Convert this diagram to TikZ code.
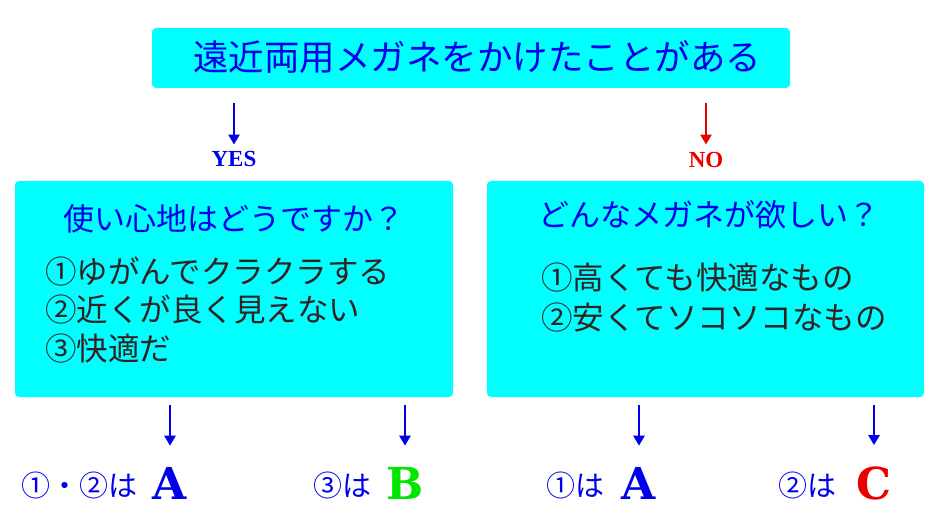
\documentclass[tikz,border=0pt]{standalone}
\usepackage{fontspec}
\usetikzlibrary{arrows.meta}
\newfontfamily\jp{Noto Sans CJK JP}
\newfontfamily\serb{Liberation Serif}[BoldFont={Liberation Serif Bold}]
\newfontfamily\slab{DejaVu Serif}
\definecolor{boxcyan}{RGB}{0,255,255}
\definecolor{tblue}{RGB}{0,0,235}
\definecolor{tdark}{RGB}{50,34,34}
\definecolor{tred}{RGB}{235,0,0}
\definecolor{tgreen}{RGB}{0,230,0}
\begin{document}
\begin{tikzpicture}[x=1pt,y=1pt,
  panel/.style={fill=boxcyan, rounded corners=4pt, inner sep=0pt},
  txt/.style={inner sep=0pt, anchor=base west},
  ttl/.style={txt, text=tblue, font=\jp\fontsize{35.5}{40}\selectfont},
  qst/.style={txt, text=tblue, font=\jp\fontsize{31}{36}\selectfont},
  item/.style={txt, text=tdark, font=\jp\fontsize{31.5}{36}\selectfont},
  lab/.style={txt, text=tblue, font=\jp\fontsize{29}{34}\selectfont},
  yn/.style={inner sep=0pt, anchor=base, font=\serb\bfseries\fontsize{23}{26}\selectfont},
  grade/.style={inner sep=0pt, anchor=base, font=\slab\bfseries\fontsize{44}{48}\selectfont},
  arr/.style={line width=2.6pt, -{Triangle[length=10pt,width=11pt]}}]
\useasboundingbox (0,0) rectangle (940,-529);
% boxes
\node[panel, minimum width=638, minimum height=60] (top) at (471,-58) {};
\node[panel, minimum width=438, minimum height=216] (lbox) at (234,-289) {};
\node[panel, minimum width=437, minimum height=216] (rbox) at (705.5,-289) {};
% titles
\node[ttl] (toptext) at (193,-71) {遠近両用メガネをかけたことがある};
\node[qst] (lq) at (63,-230.5) {使い心地はどうですか？};
\node[qst] (rq) at (538,-226.5) {どんなメガネが欲しい？};
% items
\node[item] (l1) at (45,-284) {①ゆがんでクラクラする};
\node[item] (l2) at (45,-322) {②近くが良く見えない};
\node[item] (l3) at (45,-360) {③快適だ};
\node[item] (r1) at (541,-290) {①高くても快適なもの};
\node[item] (r2) at (541,-329.5) {②安くてソコソコなもの};
% yes / no
\node[yn, text=tblue] (yes) at (234,-166.5) {YES};
\node[yn, text=tred] (no) at (706,-168) {NO};
\draw[arr, tblue, shorten <=15pt, shorten >=6.5pt] (top.south -| yes) -- (yes.north);
\draw[arr, tred, shorten <=15pt, shorten >=8pt] (top.south -| no) -- (no.north);
% results
\node[lab] (res1) at (21,-496) {①・②は};
\node[grade, text=tblue] (g1) at (170,-499) {A};
\node[lab] (res2) at (313,-496) {③は};
\node[grade, text=tgreen] (g2) at (405,-499) {B};
\node[lab] (res3) at (546,-496) {①は};
\node[grade, text=tblue] (g3) at (639,-499) {A};
\node[lab] (res4) at (778,-496) {②は};
\node[grade, text=tred] (g4) at (874,-499) {C};
\foreach \g/\b in {g1/lbox,g2/lbox,g3/rbox,g4/rbox}
  \draw[arr, tblue, shorten <=8pt, shorten >=21pt] (\b.south -| \g) -- (\g.north);
\end{tikzpicture}
\end{document}
